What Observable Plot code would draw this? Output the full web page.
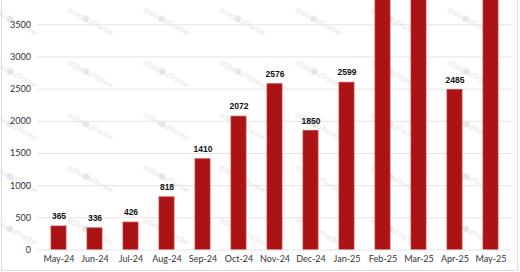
<!DOCTYPE html>
<html>
<head>
<meta charset="utf-8">
<script src="https://cdn.jsdelivr.net/npm/d3@7"></script>
<script src="https://cdn.jsdelivr.net/npm/@observablehq/plot@0.6"></script>
<style>
  html, body { margin: 0; padding: 0; background: #fff; }
  #chart { position: relative; width: 520px; height: 272px; overflow: hidden; }
  #chart svg { display: block; }
  #frame { position: absolute; left: 1px; top: -10px; width: 517px; height: 281px; border: 1px solid #dcdcdc; box-sizing: border-box; pointer-events: none; }
</style>
</head>
<body>
<div id="chart"><div id="frame"></div></div>
<script>
const months = ["May-24","Jun-24","Jul-24","Aug-24","Sep-24","Oct-24","Nov-24","Dec-24","Jan-25","Feb-25","Mar-25","Apr-25","May-25"];
// Feb-25, Mar-25 and May-25 run off the top of the picture; their values are estimates.
const launches = [365, 336, 426, 818, 1410, 2072, 2576, 1850, 2599, 3902, 4198, 2485, 4300];
const yTicks = [0, 500, 1000, 1500, 2000, 2500, 3000, 3500];

const data = months.map((m, i) => ({month: m, value: launches[i]}));

const chart = Plot.plot({
  width: 520,
  height: 272,
  marginTop: 0,
  marginBottom: 22.5,
  marginLeft: 37.5,
  marginRight: 8.5,
  style: {fontFamily: "Lato, 'Noto Sans', sans-serif", fontSize: "9px", color: "#333", background: "transparent"},
  x: {domain: months, paddingInner: 0.59, paddingOuter: 0.3, label: null},
  y: {domain: [0, 3877], label: null},
  marks: [
    Plot.gridY(yTicks, {stroke: "#e4e4e4", strokeOpacity: 1, strokeWidth: 1}),
    Plot.axisY(yTicks, {tickSize: 0, tickPadding: 7, tickFormat: d3.format("d"), label: null, fill: "#333", fontSize: 9}),
    Plot.axisX({tickSize: 0, tickPadding: 6, label: null, fill: "#333", fontSize: 9}),
    Plot.barY(data, {x: "month", y: "value", fill: "#ab1414", stroke: "#c63c3c", strokeWidth: 0.8, clip: true}),
    Plot.text(data, {x: "month", y: "value", text: d => String(d.value), dy: -10, fill: "#111",
      fontWeight: "bold", fontSize: 8.5, fontFamily: "'Liberation Sans', Arial, sans-serif", clip: true})
  ]
});
document.getElementById("chart").prepend(chart);

// faint repeated watermark
const svg = d3.select(chart);
const wm = svg.insert("g", ":first-child").attr("fill", "#e6e6e6").attr("pointer-events", "none");
for (let r = 0; r < 5; r++) {
  for (let c = 0; c < 7; c++) {
    const gx = 10 + c * 76, gy = 19 + r * 52.5;
    const g = wm.append("g").attr("transform", `translate(${gx},${gy}) rotate(28)`);
    g.append("circle").attr("cx", 0).attr("cy", 0).attr("r", 3.2).attr("fill", "#e6e6e6");
    g.append("text").attr("x", 5).attr("y", 2.5).attr("font-size", 7.5)
      .attr("font-family", "Lato, sans-serif").attr("font-style", "italic").text("@ShahedTracker");
  }
}
</script>
</body>
</html>
